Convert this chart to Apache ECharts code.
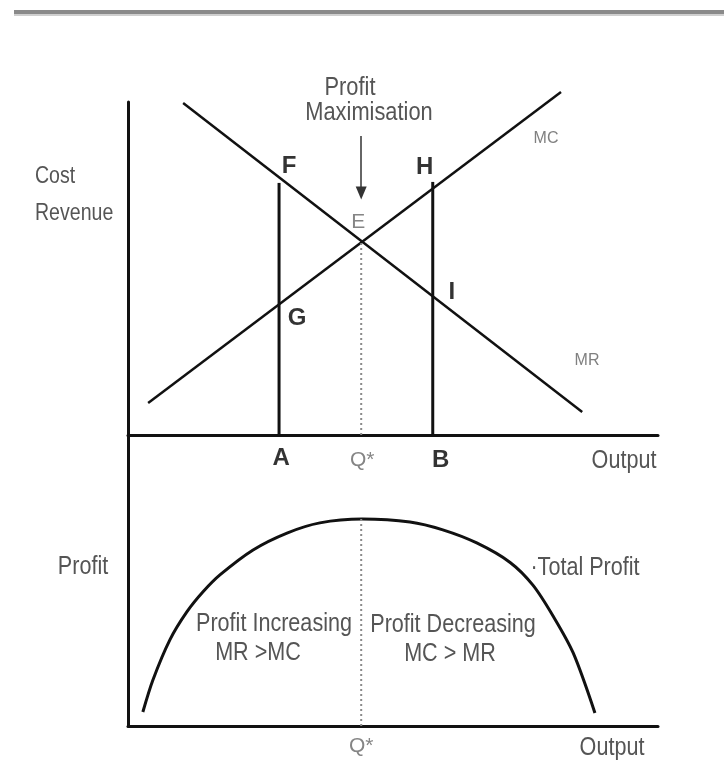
<!DOCTYPE html>
<html lang="en">

<head>
    <meta charset="UTF-8">
    <title>Profit Maximisation</title>
    <style>
        html, body {
            margin: 0;
            padding: 0;
            background: #fff;
        }

        .main {
            width: 724px;
            height: 778px;
        }
    </style>
    <script src="https://cdn.jsdelivr.net/npm/echarts@6/dist/echarts.min.js"></script>
</head>

<body>
    <div class="main"></div>
    <script>
        // data (output 0-10, cost/revenue 0-10, profit 0-10)
        var mrLine = [[1.04, 9.97], [8.57, 0.69]];
        var mcLine = [[0.38, 0.96], [8.17, 10.3]];
        var qStar = 4.4;
        var eLevel = 5.83;
        var outputMarks = ['A', 'Q*', 'B'];
        var outputValues = [2.85, 4.4, 5.75];
        var pointNames = ['F', 'G', 'H', 'I', 'E'];
        var pointX = [2.85, 2.85, 5.75, 5.75, 4.4];
        var pointY = [7.57, 3.93, 7.6, 4.14, 5.83];
        var profitX = [0.28, 0.47, 0.79, 1.11, 1.42, 1.74, 2.36, 3.0, 3.62, 4.42,
            5.32, 5.94, 6.58, 7.21, 7.64, 8.02, 8.40, 8.81];
        var profitY = [0.48, 1.58, 2.96, 3.92, 4.62, 5.2, 6.05, 6.63, 6.98, 7.11,
            7.01, 6.74, 6.29, 5.62, 4.84, 3.78, 2.51, 0.45];
        var profitPeak = 7.11;

        var plain = "'Liberation Sans', Arial, sans-serif";
        var black = '#111';
        var grey = '#555';

        var myChart = echarts.init(document.querySelector('.main'));

        function axis(idx) {
            return {
                type: 'value',
                gridIndex: idx,
                min: 0,
                max: 10,
                axisLine: { show: true, lineStyle: { color: black, width: 3 } },
                axisTick: { show: false },
                axisLabel: { show: false },
                splitLine: { show: false }
            };
        }

        function seg(points, xi, width, type, color) {
            return {
                type: 'line',
                xAxisIndex: xi,
                yAxisIndex: xi,
                data: points,
                showSymbol: false,
                silent: true,
                clip: false,
                lineStyle: { color: color || black, width: width, type: type || 'solid' }
            };
        }

        // label offsets for each point / tick mark
        var pointOffsets = [[10, -17], [18, 14], [-8, -15], [19, -5], [-3, -19]];
        var markOffsets = [[2, 23], [1, 25], [8, 25]];

        var pointData = pointNames.map(function (n, i) {
            var isE = n === 'E';
            return {
                value: [pointX[i], pointY[i]],
                label: {
                    show: true,
                    formatter: n,
                    offset: pointOffsets[i],
                    fontFamily: plain,
                    fontWeight: isE ? 'normal' : 'bold',
                    fontSize: isE ? 21 : 24,
                    color: isE ? '#666' : '#000'
                }
            };
        });

        var markData = outputMarks.map(function (n, i) {
            var isQ = n === 'Q*';
            return {
                value: [outputValues[i], 0],
                label: {
                    show: true,
                    formatter: n,
                    offset: markOffsets[i],
                    fontFamily: plain,
                    fontWeight: isQ ? 'normal' : 'bold',
                    fontSize: isQ ? 21 : 24,
                    color: isQ ? '#666' : '#000'
                }
            };
        });

        var profitLine = profitX.map(function (x, i) { return [x, profitY[i]]; });

        // condensed looking text: plain sans squeezed horizontally
        function txt(x, y, s, size, sx, color, align) {
            return {
                type: 'text',
                x: x,
                y: y,
                scaleX: sx || 0.83,
                style: {
                    text: s,
                    fontSize: size,
                    fontFamily: plain,
                    fill: color || grey,
                    align: align || 'center',
                    verticalAlign: 'middle'
                }
            };
        }

        var option = {
            animation: false,
            grid: [
                { left: 128, right: 66, top: 102, height: 333 },
                { left: 128, right: 66, top: 435, height: 291 }
            ],
            xAxis: [axis(0), axis(1)],
            yAxis: [axis(0), axis(1)],
            graphic: [
                { type: 'rect', shape: { x: 14, y: 10, width: 710, height: 4 }, style: { fill: '#8a8a8a' } },
                { type: 'rect', shape: { x: 14, y: 14, width: 710, height: 2 }, style: { fill: '#cfcfcf' } },
                txt(350, 88, 'Profit', 26, 0.84),
                txt(369, 113, 'Maximisation', 26, 0.84),
                txt(35, 177, 'Cost', 23, 0.85, grey, 'left'),
                txt(35, 214, 'Revenue', 23, 0.85, grey, 'left'),
                txt(546, 139, 'MC', 16, 1, '#808080'),
                txt(587, 361, 'MR', 16, 1, '#808080'),
                txt(624, 461, 'Output', 26),
                txt(83, 567, 'Profit', 26),
                txt(585, 568, '·Total Profit', 26),
                txt(274, 624, 'Profit Increasing', 26),
                txt(258, 653, 'MR >MC', 26),
                txt(453, 625, 'Profit Decreasing', 26),
                txt(450, 654, 'MC > MR', 26),
                txt(612, 748, 'Output', 26)
            ],
            series: [
                seg(mrLine, 0, 2.5),
                seg(mcLine, 0, 2.5),
                seg([[outputValues[0], 0], [pointX[0], pointY[0]]], 0, 3),
                seg([[outputValues[2], 0], [pointX[2], pointY[2]]], 0, 3),
                seg([[qStar, 0], [qStar, eLevel]], 0, 2, [2, 3], '#8a8a8a'),
                {
                    // arrow pointing down at E
                    type: 'line',
                    xAxisIndex: 0,
                    yAxisIndex: 0,
                    data: [],
                    markLine: {
                        silent: true,
                        symbol: ['none', 'triangle'],
                        symbolSize: [11, 13],
                        label: { show: false },
                        lineStyle: { color: '#333', width: 1.5, type: 'solid' },
                        data: [[{ coord: [qStar, 8.98] }, { coord: [qStar, 7.27] }]]
                    }
                },
                {
                    type: 'scatter',
                    xAxisIndex: 0,
                    yAxisIndex: 0,
                    symbolSize: 0,
                    silent: true,
                    data: pointData.concat(markData)
                },
                {
                    type: 'line',
                    xAxisIndex: 1,
                    yAxisIndex: 1,
                    data: profitLine,
                    smooth: 0.3,
                    showSymbol: false,
                    silent: true,
                    lineStyle: { color: black, width: 3 }
                },
                seg([[qStar, 0], [qStar, profitPeak]], 1, 2, [2, 3], '#8a8a8a'),
                {
                    type: 'scatter',
                    xAxisIndex: 1,
                    yAxisIndex: 1,
                    symbolSize: 0,
                    silent: true,
                    data: [{
                        value: [qStar, 0],
                        label: {
                            show: true, formatter: 'Q*', offset: [0, 20],
                            fontFamily: plain, fontSize: 21, color: '#666'
                        }
                    }]
                }
            ]
        };

        myChart.setOption(option);
    </script>
</body>

</html>
